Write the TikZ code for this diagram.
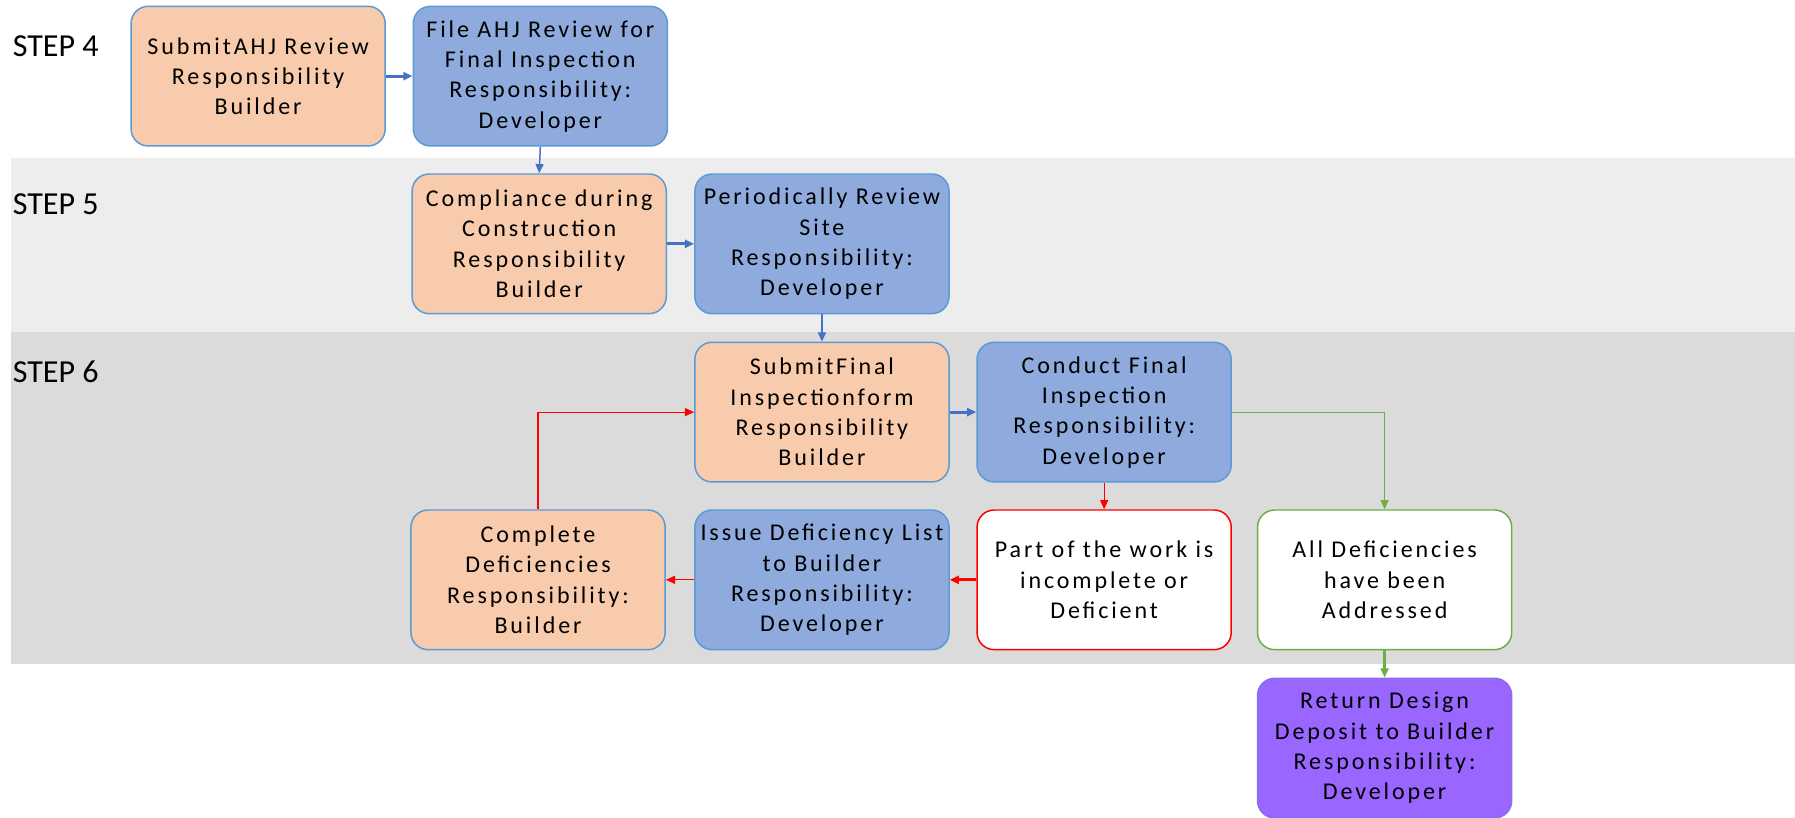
\documentclass[tikz,border=0pt]{standalone}
\usepackage{fontspec}
\setmainfont{Carlito}
\newfontfamily\boxfont[LetterSpace=12]{Carlito}
\usetikzlibrary{arrows.meta}
\definecolor{orangefill}{HTML}{F8CBAD}
\definecolor{bluefill}{HTML}{8FAADC}
\definecolor{purplefill}{HTML}{9966FF}
\definecolor{boxedge}{HTML}{5B9BD5}
\definecolor{purpleedge}{HTML}{8A6CF0}
\definecolor{bandlight}{HTML}{EDEDED}
\definecolor{banddark}{HTML}{DBDBDB}
\definecolor{arrowblue}{HTML}{4472C4}
\definecolor{redline}{HTML}{FF0000}
\definecolor{greenline}{HTML}{70AD47}
\tikzset{
  x=1pt, y=-1pt,
  box/.style={draw=boxedge, line width=1.3pt, rounded corners=15pt, minimum width=222pt, minimum height=122pt, inner sep=0pt, align=center, font=\boxfont\fontsize{21}{26.5}\selectfont, text=black},
  orangebox/.style={box, fill=orangefill},
  bluebox/.style={box, fill=bluefill},
  redbox/.style={box, fill=white, draw=redline},
  greenbox/.style={box, fill=white, draw=greenline},
  purplebox/.style={box, fill=purplefill, draw=purpleedge},
  steplabel/.style={anchor=west, inner sep=0pt, font=\fontsize{28}{32}\selectfont},
  tip/.style={-{Triangle[length=8pt,width=7pt]}},
  bluethick/.style={tip, draw=arrowblue, line width=2.5pt},
  bluethin/.style={tip, draw=arrowblue, line width=1.3pt},
  redthin/.style={tip, draw=redline, line width=1pt},
  redthick/.style={tip, draw=redline, line width=2.5pt},
  greenthin/.style={tip, draw=greenline, line width=1pt},
  greenthick/.style={tip, draw=greenline, line width=2.5pt},
}
\begin{document}
\begin{tikzpicture}
\useasboundingbox (0,0) rectangle (1568,713.7);
\fill[white] (0,0) rectangle (1568,713.7);
% bands
\fill[bandlight] (10,138) rectangle (1568,290);
\fill[banddark] (10,290) rectangle (1568,580);
% step labels
\node[steplabel] (s4) at (11,40) {STEP 4};
\node[steplabel] (s5) at (11,178) {STEP 5};
\node[steplabel] (s6) at (11,325) {STEP 6};
% nodes
\node[orangebox] (n1) at (225.5,66.5) {SubmitAHJ Review\\Responsibility\\Builder};
\node[bluebox] (n2) at (472,66.5) {File AHJ Review for\\Final Inspection\\Responsibility:\\Developer};
\node[orangebox] (n3) at (471,213) {Compliance during\\Construction\\Responsibility\\Builder};
\node[bluebox] (n4) at (718,213) {Periodically Review\\Site\\Responsibility:\\Developer};
\node[orangebox] (n5) at (718,360) {SubmitFinal\\Inspectionform\\Responsibility\\Builder};
\node[bluebox] (n6) at (964.5,360) {Conduct Final\\Inspection\\Responsibility:\\Developer};
\node[orangebox] (n7) at (470,506.5) {Complete\\Deficiencies\\Responsibility:\\Builder};
\node[bluebox] (n8) at (718,506.5) {Issue Deficiency List\\to Builder\\Responsibility:\\Developer};
\node[redbox] (n9) at (964.5,506.5) {Part of the work is\\incomplete or\\Deficient};
\node[greenbox] (n10) at (1209.5,506.5) {All Deficiencies\\have been\\Addressed};
\node[purplebox] (n11) at (1209.5,653.5) {Return Design\\Deposit to Builder\\Responsibility:\\Developer};
% connectors
\draw[bluethick] (n1.east) -- (n2.west);
\draw[bluethin] (n2.south) -- (n3.north);
\draw[bluethick] (n3.east) -- (n4.west);
\draw[bluethin] (n4.south) -- (n5.north);
\draw[bluethick] (n5.east) -- (n6.west);
\draw[redthin] (n6.south) -- (n9.north);
\draw[greenthin] (n6.east) -| (n10.north);
\draw[redthick] (n9.west) -- (n8.east);
\draw[redthin] (n8.west) -- (n7.east);
\draw[redthin] (n7.north) |- (n5.west);
\draw[greenthick] (n10.south) -- (n11.north);
\end{tikzpicture}
\end{document}
